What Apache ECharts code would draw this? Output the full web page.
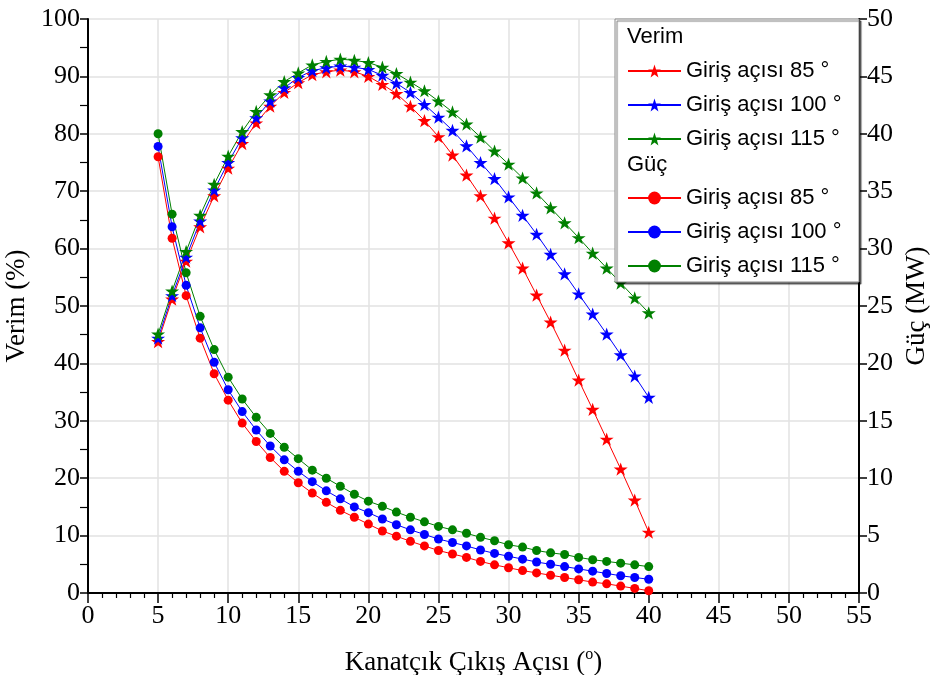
<!DOCTYPE html>
<html><head><meta charset="utf-8">
<script src="https://cdn.jsdelivr.net/npm/echarts@6/dist/echarts.min.js"></script>
<style>html,body{margin:0;padding:0;background:#fff}#c{width:936px;height:675px}</style>
</head><body><div id="c"></div>
<script>
const angles = [5,6,7,8,9,10,11,12,13,14,15,16,17,18,19,20,21,22,23,24,25,26,27,28,29,30,31,32,33,34,35,36,37,38,39,40];
const xTicks = [0,5,10,15,20,25,30,35,40,45,50,55];
const verim85  = [43.8,51.2,57.8,63.8,69.2,74.0,78.3,81.9,84.8,87.2,88.9,90.3,90.8,91.1,90.8,90.0,88.6,87.0,84.8,82.3,79.5,76.3,72.8,69.2,65.3,61.0,56.6,51.9,47.2,42.3,37.1,32.0,26.8,21.6,16.2,10.6];
const verim100 = [44.4,51.8,58.5,64.8,70.2,75.0,79.3,82.8,85.7,88.0,89.8,91.0,91.5,91.8,91.6,91.2,90.2,88.8,87.2,85.1,82.9,80.6,77.9,75.0,72.2,69.0,65.8,62.5,59.0,55.6,52.1,48.6,45.1,41.5,37.8,34.1];
const verim115 = [45.1,52.6,59.5,65.8,71.2,76.1,80.4,83.9,86.8,89.1,90.6,92.0,92.6,93.0,92.8,92.4,91.6,90.5,89.0,87.5,85.7,83.8,81.7,79.4,77.0,74.7,72.3,69.7,67.1,64.5,61.9,59.2,56.6,54.0,51.4,48.8];
const guc85  = [38.0,30.9,25.9,22.2,19.1,16.8,14.8,13.2,11.8,10.6,9.6,8.7,7.9,7.2,6.6,6.0,5.4,4.95,4.5,4.1,3.7,3.4,3.1,2.75,2.45,2.2,1.95,1.75,1.55,1.35,1.15,0.95,0.8,0.6,0.4,0.2];
const guc100 = [38.9,31.9,26.8,23.1,20.1,17.7,15.8,14.2,12.8,11.6,10.6,9.7,8.9,8.2,7.5,7.0,6.45,5.95,5.5,5.1,4.7,4.4,4.1,3.75,3.45,3.2,2.95,2.7,2.5,2.3,2.1,1.9,1.7,1.5,1.35,1.2];
const guc115 = [40.0,33.0,27.9,24.1,21.2,18.8,16.9,15.3,13.9,12.7,11.7,10.7,10.0,9.3,8.6,8.0,7.55,7.05,6.6,6.2,5.8,5.5,5.2,4.85,4.55,4.2,4.0,3.7,3.5,3.35,3.1,2.9,2.75,2.6,2.45,2.3];
const inletAngles = ['85','100','115'];
const legendLabel = 'Giriş açısı ';

const STAR = 'path://M50,0 L61.8,35.1 L98.1,35.1 L68.8,56.7 L79.4,91 L50,70 L20.6,91 L31.2,56.7 L1.9,35.1 L38.2,35.1 Z';
const colors = ['#ff0000','#0000ff','#008000'];
const verimSets = [verim85, verim100, verim115];
const gucSets = [guc85, guc100, guc115];

function mk(name, vals, color, axis, symbol, size) {
  return {
    name: name, type: 'line', yAxisIndex: axis,
    data: angles.map((a, i) => [a, vals[i]]),
    symbol: symbol, symbolSize: size, symbolKeepAspect: true, showSymbol: true,
    lineStyle: { color: color, width: 1 },
    itemStyle: { color: color },
    emphasis: { disabled: true },
    animation: false, z: 3
  };
}
const series = [];
inletAngles.forEach((g, k) => series.push(mk('Verim ' + g, verimSets[k], colors[k], 0, STAR, 14)));
inletAngles.forEach((g, k) => series.push(mk('Güç ' + g, gucSets[k], colors[k], 1, 'circle', 9)));

const serif = 'Liberation Serif';
const sans = 'Liberation Sans';
const legendText = { fontFamily: sans, fontSize: 22, lineHeight: 21, color: '#000' };
const fmt = n => legendLabel + n.split(' ')[1] + ' °';

const chart = echarts.init(document.getElementById('c'), null, { renderer: 'canvas' });
chart.setOption({
  animation: false,
  backgroundColor: '#fff',
  grid: { left: 88, right: 77, top: 19, bottom: 82, containLabel: false, outerBoundsMode: 'none' },
  xAxis: {
    type: 'value', min: 0, max: 55, interval: 5,
    name: '{a|Kanatçık Çıkış Açısı (}{b|o}{a|)}', nameLocation: 'middle', nameGap: 54,
    nameTextStyle: { fontFamily: serif, fontSize: 27, color: '#000',
      rich: { a: { fontFamily: serif, fontSize: 27, lineHeight: 32, color: '#000' },
              b: { fontFamily: serif, fontSize: 16, lineHeight: 32, verticalAlign: 'top', color: '#000' } } },
    axisLine: { show: true, onZero: false, lineStyle: { color: '#000', width: 2 } },
    axisTick: { show: true, length: 10, lineStyle: { color: '#000', width: 1.5 } },
    minorTick: { show: true, splitNumber: 5, length: 5, lineStyle: { color: '#000', width: 1.2 } },
    axisLabel: { fontFamily: serif, fontSize: 26, color: '#000', margin: 10,
      formatter: v => xTicks.indexOf(v) >= 0 ? String(v) : '' },
    splitLine: { show: true, lineStyle: { color: '#e2e2e2', width: 1.5 } }
  },
  yAxis: [{
    type: 'value', min: 0, max: 100, interval: 10, position: 'left',
    name: 'Verim (%)', nameLocation: 'middle', nameGap: 45, nameRotate: 90,
    nameTextStyle: { fontFamily: serif, fontSize: 27, color: '#000' },
    axisLine: { show: true, onZero: false, lineStyle: { color: '#000', width: 2 } },
    axisTick: { show: true, length: 8, lineStyle: { color: '#000', width: 1.5 } },
    minorTick: { show: true, splitNumber: 2, length: 8, lineStyle: { color: '#000', width: 1.2 } },
    axisLabel: { fontFamily: serif, fontSize: 26, color: '#000', margin: 8 },
    splitLine: { show: true, lineStyle: { color: '#e2e2e2', width: 1.5 } }
  }, {
    type: 'value', min: 0, max: 50, interval: 5, position: 'right',
    name: 'Güç (MW)', nameLocation: 'middle', nameGap: 31, nameRotate: 90,
    nameTextStyle: { fontFamily: serif, fontSize: 27, color: '#000' },
    axisLine: { show: true, onZero: false, lineStyle: { color: '#000', width: 2 } },
    axisTick: { show: true, length: 8, lineStyle: { color: '#000', width: 1.5 } },
    axisLabel: { fontFamily: serif, fontSize: 26, color: '#000', margin: 8 },
    splitLine: { show: false }
  }],
  legend: [{
    data: series.slice(0, 3).map(s => s.name), orient: 'vertical', left: 627, top: 60,
    itemWidth: 53, itemHeight: 16, itemGap: 12, padding: 0, selectedMode: false,
    textStyle: legendText, formatter: fmt, z: 20
  }, {
    data: series.slice(3).map(s => s.name), orient: 'vertical', left: 627, top: 187,
    itemWidth: 53, itemHeight: 16, itemGap: 12, padding: 0, selectedMode: false,
    textStyle: legendText, formatter: fmt, z: 20
  }],
  graphic: [
    { type: 'rect', z: 10, shape: { x: 615, y: 19, width: 244, height: 263 },
      style: { fill: '#fff', stroke: '#888', lineWidth: 1, shadowColor: 'rgba(0,0,0,0.55)', shadowOffsetX: 2, shadowOffsetY: 2, shadowBlur: 1 } },
    { type: 'text', z: 11, x: 627, y: 37, style: { text: 'Verim', fontFamily: sans, fontSize: 22, fill: '#000', verticalAlign: 'middle' } },
    { type: 'text', z: 11, x: 627, y: 165, style: { text: 'Güç', fontFamily: sans, fontSize: 22, fill: '#000', verticalAlign: 'middle' } }
  ],
  series: series
});
</script>
</body></html>
